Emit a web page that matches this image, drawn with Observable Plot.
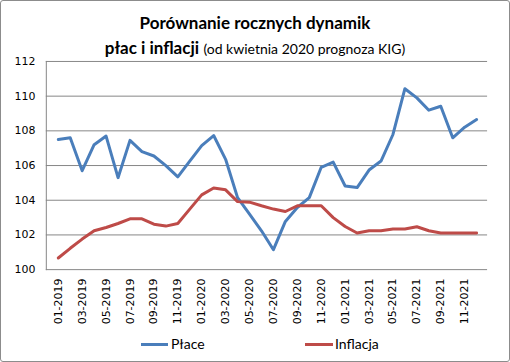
<!DOCTYPE html>
<html><head><meta charset="utf-8">
<script src="https://cdn.jsdelivr.net/npm/d3@7"></script>
<script src="https://cdn.jsdelivr.net/npm/@observablehq/plot@0.6"></script>
<style>
body{margin:0;background:#fff}
#chart{position:absolute;left:0;top:0;width:510px;height:362px;box-sizing:border-box;border:1px solid #8c8c8c;border-radius:3px;overflow:hidden;font-family:Lato,sans-serif;background:#fff}
.t{position:absolute;left:0;width:100%;text-align:center;color:#000;white-space:nowrap;line-height:20px}
#t1{top:12px;font-weight:bold;font-size:17px}
#t2{top:37px;font-size:17px}
#t2 b{font-weight:bold}
#t2 span{font-size:14px;font-weight:normal}
#plot{position:absolute;left:-1px;top:49px}
.leg{position:absolute;top:334px;font-size:14px;line-height:18px;color:#000}
.sw{position:absolute;height:3px;top:342px}
</style></head>
<body>
<div id="chart">
  <div class="t" id="t1">Porównanie rocznych dynamik</div>
  <div class="t" id="t2"><b>płac i inflacji</b> <span>(od kwietnia 2020 prognoza KIG)</span></div>
  <div id="plot"></div>
  <div class="sw" style="left:140px;width:27px;background:#4A7EBB"></div>
  <div class="leg" style="left:170px">Płace</div>
  <div class="sw" style="left:304px;width:28px;background:#BE4B48"></div>
  <div class="leg" style="left:334px">Inflacja</div>
</div>
<script>
const months = ["01-2019","02-2019","03-2019","04-2019","05-2019","06-2019","07-2019","08-2019","09-2019","10-2019","11-2019","12-2019",
"01-2020","02-2020","03-2020","04-2020","05-2020","06-2020","07-2020","08-2020","09-2020","10-2020","11-2020","12-2020",
"01-2021","02-2021","03-2021","04-2021","05-2021","06-2021","07-2021","08-2021","09-2021","10-2021","11-2021","12-2021"];
const place = [107.5,107.6,105.7,107.2,107.7,105.3,107.45,106.8,106.55,106.0,105.35,106.25,
107.15,107.73,106.36,104.15,103.2,102.24,101.15,102.78,103.58,104.15,105.9,106.2,
104.82,104.73,105.74,106.26,107.79,110.43,109.9,109.19,109.42,107.6,108.21,108.65];
const inflacja = [100.67,101.23,101.76,102.24,102.43,102.66,102.93,102.93,102.62,102.51,102.66,103.49,
104.31,104.71,104.6,103.92,103.89,103.68,103.49,103.35,103.68,103.68,103.68,103.0,
102.49,102.11,102.24,102.24,102.34,102.34,102.47,102.24,102.11,102.11,102.11,102.11];
const xTicks = months.filter((d,i)=>i%2===0);
const yTicks = [100,102,104,106,108,110,112];
const seriesNames = ["Płace","Inflacja"];
const colors = ["#4A7EBB","#BE4B48"];

const data = [];
months.forEach((m,i)=>{
  data.push({month:m, value:place[i], series:seriesNames[0]});
  data.push({month:m, value:inflacja[i], series:seriesNames[1]});
});

const chart = Plot.plot({
  width: 511,
  height: 282,
  marginTop: 11,
  marginBottom: 62,
  marginLeft: 46,
  marginRight: 22,
  style: {fontFamily: "DejaVu Sans, sans-serif", fontSize: "11px", color: "#000", background: "transparent"},
  x: {type: "point", domain: months, padding: 0.5, ticks: xTicks, tickRotate: -90, tickSize: 0, tickPadding: 9, label: null},
  y: {domain: [100,112], ticks: yTicks, tickSize: 0, tickPadding: 11, label: null},
  color: {domain: seriesNames, range: colors},
  marks: [
    Plot.gridY(yTicks.filter(d=>d>100), {stroke: "#868686", strokeOpacity: 1, strokeWidth: 1}),
    Plot.ruleY([100], {stroke: "#868686", strokeWidth: 1}),
    Plot.frame({anchor: "left", stroke: "#868686", strokeWidth: 1}),
    Plot.line(data, {x: "month", y: "value", stroke: "series", z: "series", strokeWidth: 3, strokeLinejoin: "round", strokeLinecap: "round"})
  ]
});
document.getElementById("plot").appendChild(chart);
</script>
</body></html>
